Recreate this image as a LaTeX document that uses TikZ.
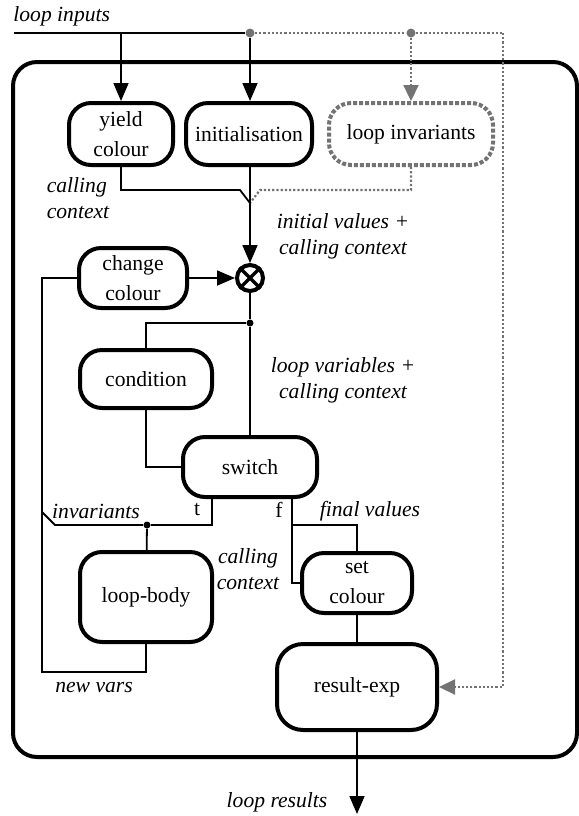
\documentclass[tikz,border=0pt]{standalone}
\usepackage{fontspec}
\setmainfont{Liberation Serif}
\usetikzlibrary{arrows.meta,calc}

\begin{document}
\begin{tikzpicture}[x=0.5pt, y=-0.5pt, >={Triangle[length=9pt,width=7.5pt]},
  font=\fontsize{10.8}{13}\selectfont,
  box/.style={draw, line width=2pt, rounded corners=11pt, align=center, fill=white,
    inner sep=0pt, font=\fontsize{10.8}{15}\selectfont},
  wire/.style={line width=0.9pt},
  dots/.style={draw=black!55, densely dotted, line width=1.1pt},
  lbl/.style={font=\fontsize{10.8}{13}\selectfont\itshape, align=center, inner sep=0pt},
  bdot/.style={circle, fill, inner sep=0pt, minimum size=3.5pt},
  gdot/.style={circle, fill=black!55, inner sep=0pt, minimum size=4.5pt}]

\useasboundingbox (0,0) rectangle (579,816);
\draw [line width=2pt, rounded corners=12pt] (13,62) rectangle (577,757);

\node [box, minimum width=52pt, minimum height=31pt] at (121,134) (yield) {yield\\colour};
\node [box, minimum width=63pt, minimum height=31pt] at (249,134) (init) {initialisation};
\node [box, draw=black!55, densely dotted, minimum width=82pt, minimum height=31pt] at (411,134) (invar) {loop invariants};
\node [box, minimum width=54pt, minimum height=30pt] at (133,278) (change) {change\\colour};
\node [circle, draw, fill=white, line width=2pt, minimum size=13pt, inner sep=0pt] at (250,278) (mix) {};
\node [box, minimum width=66pt, minimum height=29pt] at (146,379) (cond) {condition};
\node [box, minimum width=67pt, minimum height=30pt] at (250,467) (switch) {switch};
\node [box, minimum width=66pt, minimum height=45pt] at (146,597) (body) {loop-body};
\node [box, minimum width=55pt, minimum height=30pt] at (357,583) (setc) {set\\colour};
\node [box, minimum width=80pt, minimum height=43pt, rounded corners=13pt] at (357,687) (result) {result-exp};
\draw [line width=1.6pt] (mix.north west) -- (mix.south east) (mix.north east) -- (mix.south west);

% inputs
\coordinate (in0) at (14,33);
\node [gdot] at (250,33) (inA) {};
\node [gdot] at (411,33) (inB) {};
\coordinate (inC) at (503,33);
\draw [dots] (inA) -- (inB) -- (inC);
\draw [dots, ->, >={Triangle[length=8pt,width=7.5pt]}] (inC) |- (result.east);
\draw [dots, ->, >={Triangle[length=8pt,width=7.5pt]}] (inB) -- (invar.north);
\draw [wire] (in0) -- (inA);
\draw [wire, ->] (in0 -| yield.north) -- (yield.north);
\draw [wire, ->] (inA) -- (inA |- init.north);

% merge into the loop
\coordinate (mL) at (240,190);
\coordinate (mR) at (260,190);
\coordinate (merge) at (250,203);
\draw [wire] (yield.south) |- (mL) -- (merge);
\draw [dots] (invar.south) |- (mR) -- (merge);
\draw [wire] (merge |- init.south) -- (merge);
\draw [wire, ->] (merge) -- (mix.north);
\draw [wire, ->] (change) -- (mix);

\node [bdot] at (250,323) (jb) {};
\draw [wire] (mix) -- (jb) -- (switch);
\draw [wire] (jb) -| (cond);
\draw [wire] (cond) |- (switch);

% true branch
\node [bdot] at (147,525) (jc) {};
\coordinate (inv) at (55,525);
\coordinate (loopL) at (42,512);
\coordinate (nv) at (42,672);
\draw [wire] ($(switch.south)+(-38,0)$) |- (jc) -- (inv) -- (loopL);
\draw [wire] (jc) -- (body);
\draw [wire] (body) |- (nv) |- (change);

% false branch
\coordinate (fv) at (292,525);
\draw [wire] ($(switch.south)+(42,0)$) |- (setc);
\draw [wire] (fv) -| (setc);
\draw [wire] (setc) -- (result);
\coordinate (out) at (357,814);
\draw [wire, ->] (result) -- (out);

% labels
\node [lbl, anchor=west] at (13,16) (linputs) {loop inputs};
\node [lbl, align=left] at (78,198) (cctx1) {calling\\context};
\node [lbl] at (343,236) (initv) {initial values +\\calling context};
\node [lbl] at (343,380) (loopv) {loop variables +\\calling context};
\node [lbl] at (96,511) (invl) {invariants};
\node [inner sep=0pt] at (197,510) (tl) {t};
\node [inner sep=0pt] at (279,510) (fl) {f};
\node [lbl] at (370,511) (finv) {final values};
\node [lbl] at (248,569) (cctx2) {calling\\context};
\node [lbl] at (94,688) (newv) {new vars};
\node [lbl] at (277,802) (lres) {loop results};
\end{tikzpicture}
\end{document}
